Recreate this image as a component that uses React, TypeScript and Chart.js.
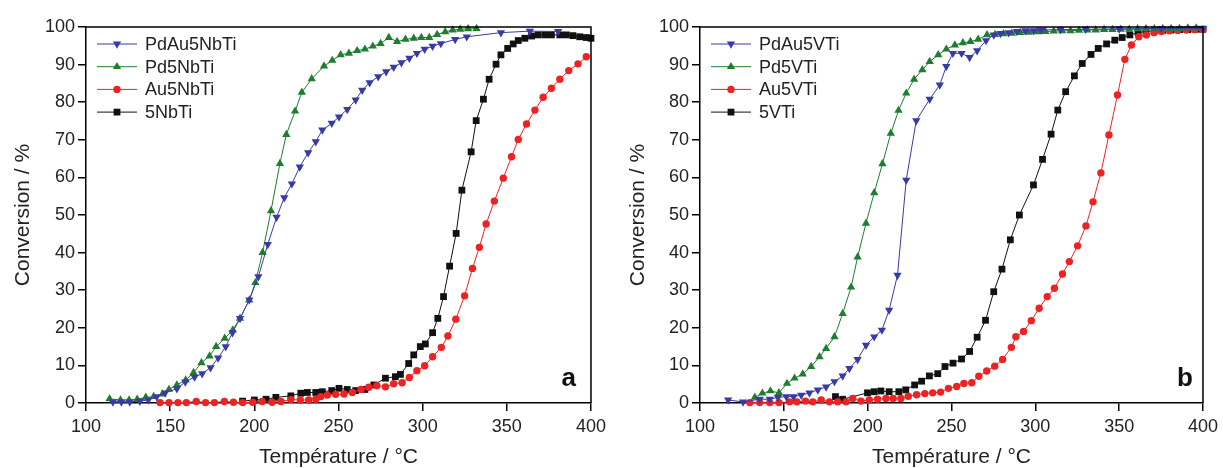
import React, { useEffect, useRef } from "react";
import { Chart, registerables } from "chart.js";

Chart.register(...registerables);

// ---------- Panel a (Nb) ----------
const A_PDAU_T = [116, 121, 126, 132, 137, 142, 147, 154, 159, 164.5, 169, 174, 178.5, 183, 187, 191.5, 197, 202.4, 208, 213.2, 217.8, 222.3, 227, 232, 236.5, 240.4, 246, 250.3, 255.2, 260.2, 264.1, 268.5, 273.6, 278.3, 282.8, 287.4, 292.1, 296.6, 301.2, 305.9, 310.8, 319.3, 326.2, 346.5, 363.7, 380.5];
const A_PDAU_C = [0.3, 0.3, 0.3, 0.5, 0.8, 1.7, 2.7, 3.8, 5.6, 6.9, 7.8, 9.4, 12.0, 15.0, 18.7, 22.5, 27.4, 33.6, 42.2, 49.4, 54.6, 58.3, 62.8, 66.6, 69.5, 72.6, 74.4, 76.1, 78.1, 80.6, 83.2, 85.2, 86.8, 88.1, 89.3, 90.5, 91.7, 93.0, 94.1, 94.9, 95.6, 96.7, 97.4, 98.5, 98.9, 98.8];

const A_PD_T = [114, 120.5, 125.6, 130.4, 135.5, 140.2, 145.4, 149.3, 154, 159.2, 163.9, 168.6, 173.4, 177.3, 182.4, 187.2, 191.5, 197, 200.6, 204.9, 209.9, 215.2, 219, 224.2, 228.2, 234.1, 241.4, 246.3, 251.3, 256.2, 261.1, 265.7, 270.4, 275, 279.9, 284.8, 289.8, 294.7, 299.2, 303.9, 308.6, 313.4, 317.8, 322.3, 327, 332];
const A_PD_C = [1.1, 0.8, 0.8, 1.0, 1.5, 1.7, 2.4, 3.6, 4.8, 6.1, 8.1, 10.7, 12.5, 15.0, 17.2, 19.4, 22.5, 27.4, 32.0, 40.0, 51.1, 63.7, 71.4, 77.6, 82.6, 86.2, 89.6, 91.1, 92.6, 93.0, 93.7, 94.1, 94.9, 95.6, 97.2, 96.1, 96.7, 97.0, 97.2, 97.2, 98.0, 98.7, 99.2, 99.4, 99.5, 99.6];

const A_AU_T = [144, 149.3, 154.6, 159.6, 165.5, 171, 176.3, 182.2, 187.6, 193.1, 199, 204.6, 210.5, 215.8, 221.7, 227.3, 232.3, 236.5, 239.5, 243.4, 248.3, 253.3, 258.2, 263.4, 268, 272.8, 277.9, 282.8, 287.8, 292.1, 296.6, 301.2, 305.9, 311.1, 315, 319.7, 324.9, 329.6, 333.7, 337.7, 342.6, 347.9, 352.8, 356.8, 361.7, 366.7, 371.6, 376.5, 381.5, 386.8, 392.3, 397.2];
const A_AU_C = [0.1, 0.1, 0.1, 0.1, 0.4, 0.1, 0.1, 0.4, 0.2, 0.1, 0.2, 0.4, 0.2, 0.4, 0.9, 0.8, 0.8, 1.0, 1.7, 2.1, 2.3, 2.4, 2.8, 3.6, 4.2, 4.6, 4.3, 5.1, 5.4, 6.8, 8.6, 9.9, 12.3, 14.8, 17.8, 22.3, 28.5, 35.8, 41.4, 47.6, 53.7, 59.8, 65.5, 70.1, 74.2, 77.9, 81.3, 83.7, 86.1, 88.4, 90.2, 92.1];

const A_SUP_T = [193, 200, 207, 212.8, 221.7, 227.6, 231.5, 236.5, 240.4, 246, 250.3, 255.2, 260.2, 265.7, 271, 277.9, 283.8, 286.8, 291.7, 294.7, 298.6, 301.6, 305.9, 309, 312.4, 316, 319.9, 323.3, 328.8, 331.8, 336.1, 339.5, 343.6, 346.5, 350.5, 353.8, 356.8, 360.7, 364.7, 368.6, 372.6, 376.5, 381.5, 385.4, 389.3, 393.3, 397.2, 400];
const A_SUP_C = [0.5, 0.8, 1.0, 1.5, 1.9, 2.6, 2.8, 2.8, 3.0, 3.3, 3.9, 3.6, 3.3, 3.6, 4.8, 6.6, 7.0, 7.6, 10.5, 12.8, 15.0, 15.7, 18.7, 22.5, 28.3, 36.4, 45.1, 56.6, 66.8, 75.1, 80.8, 86.1, 90.1, 92.6, 94.3, 95.5, 96.4, 97.0, 97.6, 97.9, 97.9, 97.9, 97.9, 97.9, 97.7, 97.4, 97.2, 97.0];

// ---------- Panel b (V) ----------
const B_PDAU_T = [116.8, 125.7, 135.6, 141.6, 146.5, 151.5, 155.8, 160.4, 165.3, 170.3, 175.2, 180.2, 185.1, 189.1, 194, 199, 203.9, 208.5, 212.8, 217.8, 223, 229, 237, 243, 246.9, 250.8, 256, 260.8, 265.3, 270.6, 275.2, 279.2, 284.1, 289, 294, 298.9, 303.5, 315, 330, 350, 375, 400];
const B_PDAU_C = [0.8, 0.3, 1.0, 1.0, 1.5, 1.7, 1.7, 2.1, 2.7, 3.5, 4.3, 5.7, 7.2, 9.2, 11.6, 15.4, 17.6, 19.4, 24.7, 34.0, 59.3, 75.1, 80.8, 84.6, 89.5, 93.0, 93.0, 91.9, 93.7, 96.4, 97.9, 98.3, 98.5, 98.8, 99.0, 99.0, 99.2, 99.3, 99.4, 99.5, 99.6, 99.6];

const B_PD_T = [132.7, 137.2, 142, 147.1, 151.9, 156.4, 161.3, 166.3, 171.3, 175.2, 180.2, 185.1, 190.1, 194, 199, 203.9, 208.8, 213.8, 218.4, 223, 227.7, 232.6, 237, 242.1, 246.9, 252, 256.8, 261.3, 265.9, 271.2, 276, 281, 286, 291, 296, 301, 306, 311, 316, 321, 326, 331, 336, 341, 346, 351, 356, 361, 366, 371, 376, 381, 386, 391, 396];
const B_PD_C = [1.5, 2.6, 3.2, 2.7, 5.2, 6.6, 7.7, 9.7, 12.3, 14.5, 17.6, 23.8, 30.8, 38.8, 47.8, 55.9, 63.6, 71.7, 77.8, 82.4, 86.1, 88.6, 90.8, 92.6, 94.1, 95.2, 95.8, 96.1, 96.7, 97.9, 98.0, 98.2, 98.3, 98.5, 98.6, 98.7, 98.8, 98.9, 99.0, 99.0, 99.1, 99.2, 99.2, 99.3, 99.3, 99.4, 99.4, 99.5, 99.5, 99.5, 99.6, 99.6, 99.6, 99.7, 99.7];

const B_AU_T = [129.7, 135.6, 141.6, 147.1, 153.4, 157.8, 162.9, 167.3, 172.3, 177.2, 182.1, 187.1, 191.1, 196, 201, 205.9, 210.9, 215.2, 219.8, 224.2, 229.2, 234.1, 238.8, 243.5, 248.2, 253.1, 257.4, 262.1, 266.3, 271, 275.8, 280.5, 285.7, 288.4, 293, 297.6, 302.3, 307.1, 311.4, 316.2, 320.3, 325.2, 330.2, 334.4, 339.1, 343.9, 349, 353.4, 357.3, 361.7, 366.2, 370.8, 375.2, 380, 385, 390, 395, 400];
const B_AU_C = [0.1, 0.1, 0.1, 0.1, 0.3, 0.3, 0.5, 0.3, 0.8, 0.3, 0.3, 0.3, 1.2, 0.5, 0.8, 1.0, 1.2, 1.2, 1.2, 1.8, 2.2, 2.5, 2.7, 2.9, 3.9, 4.4, 5.2, 5.4, 7.1, 8.5, 9.8, 11.6, 14.8, 17.6, 19.0, 21.9, 25.2, 28.3, 30.5, 34.3, 37.6, 41.8, 47.1, 53.5, 61.2, 71.3, 81.9, 91.4, 95.2, 97.4, 97.9, 98.5, 98.8, 99.0, 99.1, 99.2, 99.3, 99.4];

const B_SUP_T = [180.8, 185.1, 199.9, 203.9, 207.9, 212.8, 218.6, 222.7, 228, 232.2, 236.8, 241.8, 246.1, 250.9, 256, 260.8, 265.3, 270.3, 275.2, 280.1, 285.1, 290.5, 298.9, 304.3, 309.4, 313.4, 318.1, 323.3, 328, 333.2, 337.5, 342.5, 347.4, 351.8, 356.4, 361.3, 366, 371, 376, 381, 386, 391, 396, 400];
const B_SUP_C = [1.7, 1.0, 2.7, 3.0, 3.2, 3.0, 3.0, 3.5, 4.8, 5.8, 7.2, 7.8, 9.7, 10.6, 11.7, 13.7, 17.5, 22.0, 29.6, 35.6, 43.4, 50.0, 58.0, 64.8, 71.5, 77.9, 82.8, 87.0, 90.3, 92.7, 94.3, 95.5, 96.5, 97.2, 97.9, 98.5, 98.8, 99.0, 99.1, 99.2, 99.3, 99.3, 99.4, 99.4];

const X_MIN = 100, X_MAX = 400, X_STEP = 50;
const Y_MIN = 0, Y_MAX = 100, Y_STEP = 10;
const X_TITLE = "Température / °C";
const Y_TITLE = "Conversion / %";

const BLUE = "#3a3aa6";
const GREEN = "#1f7d30";
const RED = "#ee2222";
const BLACK = "#111111";
const FONT = "'Liberation Sans', Arial, sans-serif";

type Series = { label: string; t: number[]; c: number[]; color: string; style: string; rot: number; r: number };

const PANEL_A: Series[] = [
  { label: "PdAu5NbTi", t: A_PDAU_T, c: A_PDAU_C, color: BLUE, style: "triangle", rot: 180, r: 4.8 },
  { label: "Pd5NbTi", t: A_PD_T, c: A_PD_C, color: GREEN, style: "triangle", rot: 0, r: 4.8 },
  { label: "Au5NbTi", t: A_AU_T, c: A_AU_C, color: RED, style: "circle", rot: 0, r: 3.7 },
  { label: "5NbTi", t: A_SUP_T, c: A_SUP_C, color: BLACK, style: "rect", rot: 0, r: 4.8 },
];
const PANEL_B: Series[] = [
  { label: "PdAu5VTi", t: B_PDAU_T, c: B_PDAU_C, color: BLUE, style: "triangle", rot: 180, r: 4.8 },
  { label: "Pd5VTi", t: B_PD_T, c: B_PD_C, color: GREEN, style: "triangle", rot: 0, r: 4.8 },
  { label: "Au5VTi", t: B_AU_T, c: B_AU_C, color: RED, style: "circle", rot: 0, r: 3.7 },
  { label: "5VTi", t: B_SUP_T, c: B_SUP_C, color: BLACK, style: "rect", rot: 0, r: 4.8 },
];

function drawMarker(ctx: CanvasRenderingContext2D, s: Series, x: number, y: number) {
  ctx.beginPath();
  if (s.style === "circle") {
    ctx.arc(x, y, s.r, 0, Math.PI * 2);
  } else if (s.style === "rect") {
    const h = s.r * Math.SQRT1_2;
    ctx.rect(x - h, y - h, 2 * h, 2 * h);
  } else {
    let rad = (s.rot * Math.PI) / 180;
    ctx.moveTo(x + Math.sin(rad) * s.r, y - Math.cos(rad) * s.r);
    rad += (2 * Math.PI) / 3;
    ctx.lineTo(x + Math.sin(rad) * s.r, y - Math.cos(rad) * s.r);
    rad += (2 * Math.PI) / 3;
    ctx.lineTo(x + Math.sin(rad) * s.r, y - Math.cos(rad) * s.r);
    ctx.closePath();
  }
  ctx.fillStyle = s.color;
  ctx.fill();
}

type PanelProps = { series: Series[]; letter: string; width: number; axisW: number; padRight: number; titlePad: number; letterDx: number };

function Panel({ series, letter, width, axisW, padRight, titlePad, letterDx }: PanelProps) {
  const ref = useRef<HTMLCanvasElement | null>(null);
  useEffect(() => {
    if (!ref.current) return;
    const overlay = {
      id: "overlay",
      afterDraw(chart: any) {
        const ctx: CanvasRenderingContext2D = chart.ctx;
        const { left, top, right, bottom } = chart.chartArea;
        ctx.save();
        ctx.strokeStyle = "#000";
        ctx.lineWidth = 1.5;
        ctx.beginPath();
        ctx.moveTo(left, top);
        ctx.lineTo(right, top);
        ctx.lineTo(right, bottom);
        ctx.stroke();
        // legend
        series.forEach((s, i) => {
          const y = top + 17 + i * 22.7;
          const x0 = left + 11;
          ctx.strokeStyle = s.color;
          ctx.lineWidth = 1;
          ctx.beginPath();
          ctx.moveTo(x0, y);
          ctx.lineTo(x0 + 40, y);
          ctx.stroke();
          drawMarker(ctx, s, x0 + 20, y);
          ctx.fillStyle = "#222";
          ctx.font = `18px ${FONT}`;
          ctx.textAlign = "left";
          ctx.textBaseline = "middle";
          ctx.fillText(s.label, x0 + 48, y + 1);
        });
        ctx.fillStyle = "#111";
        ctx.font = `bold 26px ${FONT}`;
        ctx.textAlign = "right";
        ctx.textBaseline = "alphabetic";
        ctx.fillText(letter, right - letterDx, bottom - 17);
        ctx.restore();
      },
    };
    const chart = new Chart(ref.current, {
      type: "scatter",
      data: {
        datasets: series.map((s) => ({
          label: s.label,
          data: s.t.map((t, i) => ({ x: t, y: s.c[i] })),
          showLine: true,
          borderColor: s.color,
          backgroundColor: s.color,
          borderWidth: 1,
          pointStyle: s.style as any,
          pointRotation: s.rot,
          pointRadius: s.r,
          pointBorderWidth: 0,
          pointHoverRadius: s.r,
          clip: false as any,
        })),
      },
      options: {
        animation: false,
        responsive: false,
        devicePixelRatio: 1,
        layout: { padding: { left: 0, right: padRight, top: 27, bottom: 0 } },
        plugins: { legend: { display: false }, tooltip: { enabled: false } },
        scales: {
          x: {
            type: "linear",
            min: X_MIN,
            max: X_MAX,
            afterFit: (sc: any) => { sc.height = 65; },
            ticks: { stepSize: X_STEP, color: "#222", font: { size: 18, family: FONT }, padding: 5, maxRotation: 0 },
            grid: { drawOnChartArea: false, drawTicks: true, tickLength: 8, color: "#000", lineWidth: 1.5 },
            border: { display: true, color: "#000", width: 1.5 },
            title: { display: true, text: X_TITLE, color: "#222", font: { size: 21, family: FONT, lineHeight: 1.05 }, padding: 0 },
          },
          y: {
            type: "linear",
            min: Y_MIN,
            max: Y_MAX,
            afterFit: (sc: any) => { sc.width = axisW; },
            ticks: { stepSize: Y_STEP, color: "#222", font: { size: 18, family: FONT }, padding: 3 },
            grid: { drawOnChartArea: false, drawTicks: true, tickLength: 8, color: "#000", lineWidth: 1.5 },
            border: { display: true, color: "#000", width: 1.5 },
            title: { display: true, text: Y_TITLE, color: "#222", font: { size: 21, family: FONT, lineHeight: 1.05 }, padding: { top: titlePad, bottom: 0 } },
          },
        },
      },
      plugins: [overlay],
    });
    return () => chart.destroy();
  }, []);
  return <canvas ref={ref} width={width} height={468} style={{ display: "block", width, height: 468 }} />;
}

export default function App() {
  return (
    <div style={{ position: "fixed", left: 0, top: 0, width: 1223, height: 468, background: "#fff", display: "flex" }}>
      <Panel series={PANEL_A} letter="a" width={611} axisW={86} padRight={18} titlePad={12} letterDx={15} />
      <Panel series={PANEL_B} letter="b" width={612} axisW={89} padRight={18} titlePad={16} letterDx={10} />
    </div>
  );
}
